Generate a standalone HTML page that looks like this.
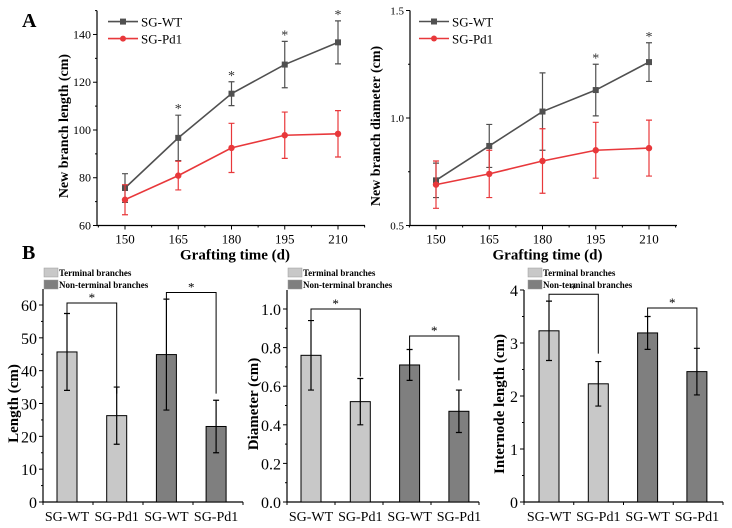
<!DOCTYPE html>
<html><head><meta charset="utf-8"><style>
body{margin:0;background:#fff}
svg{display:block;font-family:"Liberation Serif","Times New Roman",serif}
</style></head><body>
<svg id="fig" width="732" height="528" viewBox="0 0 732 528" xmlns="http://www.w3.org/2000/svg" font-family="Liberation Serif, serif">
<text x="22" y="27" font-size="20" font-weight="bold">A</text>
<text x="22" y="259" font-size="20" font-weight="bold">B</text>
</svg>
<script>
// ---- Panel A data ----
const days = [150, 165, 180, 195, 210];
const lenWT = [75.7, 96.7, 115.2, 127.4, 136.7];
const lenWTerr = [6, 9.5, 5, 9.7, 9];
const lenPd = [70.8, 80.9, 92.5, 97.8, 98.4];
const lenPderr = [6.3, 6, 10.3, 9.7, 9.7];
const lenStars = [false, true, true, true, true];
const lenTicks = [60, 80, 100, 120, 140];
const diaWT = [0.71, 0.87, 1.03, 1.13, 1.26];
const diaWTerr = [0.08, 0.10, 0.18, 0.12, 0.09];
const diaPd = [0.69, 0.74, 0.80, 0.85, 0.86];
const diaPderr = [0.11, 0.11, 0.15, 0.13, 0.13];
const diaStars = [false, false, false, true, true];
const diaTicks = ["0.5", "1.0", "1.5"];
// ---- Panel B data ----
const barCats = ["SG-WT", "SG-Pd1", "SG-WT", "SG-Pd1"];
const barGroup = ["Terminal", "Terminal", "Non-terminal", "Non-terminal"];
const blen = [45.7, 26.3, 44.9, 23.0];
const blenErr = [11.7, 8.7, 16.9, 8.0];
const blenTicks = [0, 10, 20, 30, 40, 50, 60];
const bdia = [0.76, 0.52, 0.71, 0.47];
const bdiaErr = [0.18, 0.12, 0.08, 0.11];
const bdiaTicks = ["0.0", "0.2", "0.4", "0.6", "0.8", "1.0"];
const bint = [3.23, 2.23, 3.19, 2.46];
const bintErr = [0.56, 0.42, 0.31, 0.44];
const bintTicks = [0, 1, 2, 3, 4];

const NS = "http://www.w3.org/2000/svg";
const svg = document.getElementById("fig");
function mk(tag, attrs, parent) {
  const e = document.createElementNS(NS, tag);
  for (const k in attrs) e.setAttribute(k, attrs[k]);
  (parent || svg).appendChild(e);
  return e;
}
function txt(s, attrs, parent) { const e = mk("text", attrs, parent); e.textContent = s; return e; }

function lineChart(o) {
  const g = mk("g", {});
  
  
  const sy = v => o.y0 - (v - o.vmin) / (o.vmax - o.vmin) * (o.y0 - o.y1);
  const sx = d => o.x150 + (d - 150) / 60 * (o.x210 - o.x150);
  const ax = mk("path", {d: `M${o.ax},${o.y1} V${o.y0} H${o.axEnd}`, fill: "none", stroke: "#000", "stroke-width": 1.2}, g);
  
  
  o.ticks.forEach(t => {
    const v = parseFloat(t), y = sy(v);
    mk("line", {x1: o.ax - 4, x2: o.ax, y1: y, y2: y, stroke: "#000"}, g);
    const l = txt(String(t), {x: o.ax - 6, y: y + 4, "font-size": o.tfs, "text-anchor": "end"}, g);
    
    
  });
  for (let i = 0; i < o.minor.length; i++) { const y = sy(o.minor[i]); mk("line", {x1: o.ax - 2, x2: o.ax, y1: y, y2: y, stroke: "#000"}, g); }
  days.forEach(d => {
    const x = sx(d);
    mk("line", {x1: x, x2: x, y1: o.y0, y2: o.y0 + 4, stroke: "#000"}, g);
    mk("line", {x1: x + (o.x210 - o.x150) / 8, x2: x + (o.x210 - o.x150) / 8, y1: o.y0, y2: o.y0 + 2, stroke: "#000"}, g);
    const l = txt(String(d), {x: x, y: o.y0 + 18, "font-size": 13, "text-anchor": "middle"}, g);
    
    
  });
  mk("line", {x1: sx(150) - (o.x210 - o.x150) / 8, x2: sx(150) - (o.x210 - o.x150) / 8, y1: o.y0, y2: o.y0 + 2, stroke: "#000"}, g);
  const xt = txt("Grafting time (d)", {x: (o.ax + o.axEnd) / 2 + 4, y: o.y0 + 34, "font-size": 15, "font-weight": "bold", "text-anchor": "middle"}, g);
  
  
  const yt = txt(o.ytitle, {x: 0, y: 0, "font-size": 14, "font-weight": "bold", "text-anchor": "middle", transform: `translate(${o.ylx},${(o.y0 + o.y1) / 2 + 8}) rotate(-90)`}, g);
  
  
  const series = [[o.wt, o.wterr, "#505050", "wt"], [o.pd, o.pderr, "#e8383b", "pd1"]];
  series.forEach(([vals, errs, col, nm]) => {
    const sg = mk("g", {}, g);
    
    
    vals.forEach((v, i) => {
      const x = sx(days[i]);
      const eb = mk("path", {d: `M${x},${sy(v - errs[i])} V${sy(v + errs[i])} M${x - 3},${sy(v - errs[i])} h6 M${x - 3},${sy(v + errs[i])} h6`, stroke: col, "stroke-width": 1.2, fill: "none"}, sg);
      
      
    });
    const pts = vals.map((v, i) => sx(days[i]) + "," + sy(v)).join(" ");
    const pl = mk("polyline", {points: pts, fill: "none", stroke: col, "stroke-width": 1.6}, sg);
    
    
    vals.forEach((v, i) => {
      const x = sx(days[i]), y = sy(v);
      const m = nm === "wt" ? mk("rect", {x: x - 3, y: y - 3, width: 6, height: 6, fill: col}, sg) : mk("circle", {cx: x, cy: y, r: 3.2, fill: col}, sg);
      
      
    });
  });
  o.stars.forEach((s, i) => {
    if (!s) return;
    const st = txt("*", {x: sx(days[i]), y: sy(o.wt[i] + o.wterr[i]) - 2, "font-size": 14, "text-anchor": "middle", fill: "#333"}, g);
    
    
  });
  const lg = mk("g", {}, g);
  
  
  [["SG-WT", "#505050", 0], ["SG-Pd1", "#e8383b", 1]].forEach(([t, c, k]) => {
    const y = o.y1 + 11 + k * 17;
    mk("line", {x1: o.lx, x2: o.lx + 30, y1: y, y2: y, stroke: c, "stroke-width": 1.6}, lg);
    if (k === 0) mk("rect", {x: o.lx + 12, y: y - 3, width: 6, height: 6, fill: c}, lg); else mk("circle", {cx: o.lx + 15, cy: y, r: 3, fill: c}, lg);
    const lt = txt(t, {x: o.lx + 33, y: y + 5, "font-size": 13}, lg);
    
    
  });
}

lineChart({name: "length-line-chart", ax: 97, axEnd: 365, y0: 225.5, y1: 10.6, vmin: 60, vmax: 150, x150: 125, x210: 338,
  ticks: lenTicks, minor: [70, 90, 110, 130, 150], tfs: 12, wt: lenWT, wterr: lenWTerr, pd: lenPd, pderr: lenPderr, stars: lenStars,
  ytitle: "New branch length (cm)", ylx: 68, lx: 108});
lineChart({name: "diameter-line-chart", ax: 410, axEnd: 677, y0: 225.5, y1: 10.5, vmin: 0.5, vmax: 1.5, x150: 436, x210: 649,
  ticks: diaTicks, minor: [0.75, 1.25], tfs: 11, wt: diaWT, wterr: diaWTerr, pd: diaPd, pderr: diaPderr, stars: diaStars,
  ytitle: "New branch diameter (cm)", ylx: 380, lx: 419});

function barChart(o) {
  const g = mk("g", {});
  
  
  const sy = v => o.y0 - v / o.vref * (o.y0 - o.yref);
  const ax = mk("path", {d: `M${o.ax},${o.ytop} V${o.y0} H${o.axEnd}`, fill: "none", stroke: "#000", "stroke-width": 1.2}, g);
  
  
  o.ticks.forEach((t, i) => {
    const y = sy(parseFloat(t));
    mk("line", {x1: o.ax - 4, x2: o.ax, y1: y, y2: y, stroke: "#000"}, g);
    const y2 = sy(parseFloat(t) + o.step / 2);
    if (y2 >= o.ytop) mk("line", {x1: o.ax - 2, x2: o.ax, y1: y2, y2: y2, stroke: "#000"}, g);
    const l = txt(String(t), {x: o.ax - 6, y: y + 6, "font-size": 16, "text-anchor": "end"}, g);
    
    
  });
  const yt = txt(o.ytitle, {x: 0, y: 0, "font-size": 15, "font-weight": "bold", "text-anchor": "middle", transform: `translate(${o.ylx},${(o.y0 + o.ytop) / 2 + 8}) rotate(-90)`}, g);
  
  
  const sp = (o.axEnd - o.ax) / 4;
  const cx = i => o.ax + o.off + i * o.sp;
  for (let i = 0; i <= 4; i++) mk("line", {x1: o.ax + i * sp, x2: o.ax + i * sp, y1: o.y0, y2: o.y0 + 3, stroke: "#000"}, g);
  o.vals.forEach((v, i) => {
    const x = cx(i), col = barGroup[i] === "Terminal" ? "#c8c8c8" : "#7f7f7f";
    const b = mk("rect", {x: x - 10, y: sy(v), width: 20, height: o.y0 - sy(v), fill: col, stroke: "#000", "stroke-width": 1}, g);
    
    
    const e = o.errs[i];
    const eb = mk("path", {d: `M${x},${sy(v - e)} V${sy(v + e)} M${x - 3},${sy(v - e)} h6 M${x - 3},${sy(v + e)} h6`, stroke: "#000", "stroke-width": 1.2, fill: "none"}, g);
    
    
    const l = txt(barCats[i], {x: x, y: o.y0 + 19, "font-size": 14, "text-anchor": "middle"}, g);
    
    
  });
  o.brackets.forEach(([a, b, top, la, lb]) => {
    const br = mk("path", {d: `M${cx(a)},${sy(la)} V${sy(top)} H${cx(b)} V${sy(lb)}`, fill: "none", stroke: "#000", "stroke-width": 1}, g);
    
    
    const st = txt("*", {x: (cx(a) + cx(b)) / 2, y: sy(top) - 1, "font-size": 13, "text-anchor": "middle"}, g);
    
    
  });
  const lg = mk("g", {}, g);
  
  
  [["Terminal branches", "#c8c8c8", 0], ["Non-terminal branches", "#7f7f7f", 1]].forEach(([t, c, k]) => {
    const y = 268 + k * 12;
    mk("rect", {x: o.lx, y: y, width: 14, height: 9, fill: c, stroke: "#999", "stroke-width": 0.5}, lg);
    const lt = txt(t, {x: o.lx + 15, y: y + 8, "font-size": 9, "font-weight": "bold"}, lg);
    
    
  });
}

barChart({name: "length-bar-chart", ax: 43, axEnd: 243, y0: 502, yref: 305, vref: 60, ytop: 289, ticks: blenTicks, step: 10,
  vals: blen, errs: blenErr, off: 24, sp: 49.7, ylx: 18, lx: 44, ytitle: "Length (cm)",
  brackets: [[0, 1, 60.6, 57.4, 33], [2, 3, 63.8, 61.8, 33]]});
barChart({name: "diameter-bar-chart", ax: 287, axEnd: 479, y0: 502, yref: 309, vref: 1.0, ytop: 290, ticks: bdiaTicks, step: 0.2,
  vals: bdia, errs: bdiaErr, off: 24, sp: 49.3, ylx: 258, lx: 288, ytitle: "Diameter (cm)",
  brackets: [[0, 1, 1.0, 0.94, 0.65], [2, 3, 0.86, 0.79, 0.63]]});
barChart({name: "internode-bar-chart", ax: 524, axEnd: 723, y0: 502, yref: 290, vref: 4, ytop: 290, ticks: bintTicks, step: 1,
  vals: bint, errs: bintErr, off: 25, sp: 49.3, ylx: 504, lx: 528, ytitle: "Internode length (cm)",
  brackets: [[0, 1, 3.92, 3.79, 2.8], [2, 3, 3.66, 3.5, 2.9]]});
</script>
</body></html>
